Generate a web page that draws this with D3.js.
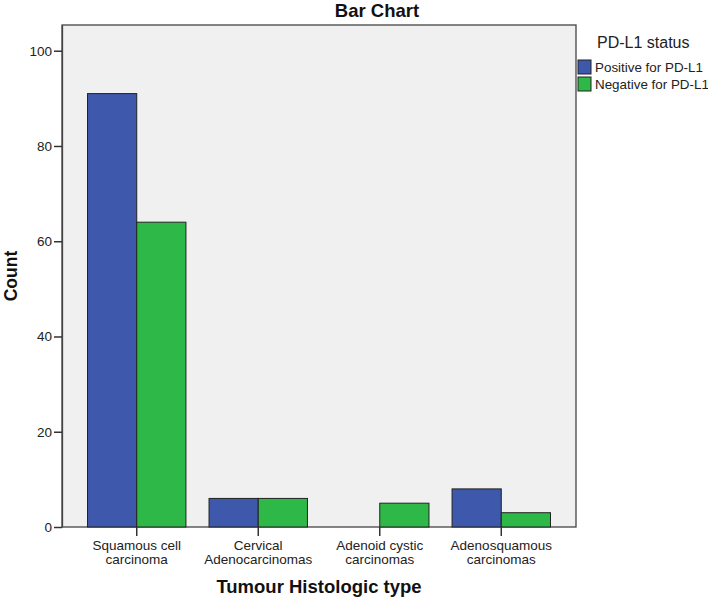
<!DOCTYPE html>
<html><head><meta charset="utf-8">
<script src="https://cdn.jsdelivr.net/npm/d3@7"></script>
<style>body{margin:0;background:#fff}svg{display:block;font-family:"Liberation Sans",Arial,sans-serif}</style>
</head><body><svg id="c" width="708" height="600"></svg>
<script>
const categories = [["Squamous cell","carcinoma"],["Cervical","Adenocarcinomas"],["Adenoid cystic","carcinomas"],["Adenosquamous","carcinomas"]];
const seriesNames = ["Positive for PD-L1","Negative for PD-L1"];
const positive = [91, 6, 0, 8];
const negative = [64, 6, 5, 3];
const yTicks = [0, 20, 40, 60, 80, 100];
const colors = ["#3E58AC", "#2EB848"];

const svg = d3.select("#c");
const L = 62, R = 576, T = 25, B = 527;
const cats = categories.map(c => c.join(" "));
const x0 = d3.scaleBand().domain(cats).range([L, R]).paddingInner(0.19).paddingOuter(0.21);
const x1 = d3.scaleBand().domain(seriesNames).range([0, x0.bandwidth()]);
const y = d3.scaleLinear().domain([0, 105.4]).range([B, T]);

svg.append("rect").attr("x", L).attr("y", T).attr("width", R - L).attr("height", B - T)
  .attr("fill", "#F0F0F0").attr("stroke", "#444").attr("stroke-width", 1.3);

const data = cats.map((c, i) => ({c, vals: [positive[i], negative[i]]}));
const g = svg.append("g");
data.forEach(d => {
  d.vals.forEach((v, j) => {
    if (v <= 0) return;
    g.append("rect").attr("x", x0(d.c) + x1(seriesNames[j])).attr("y", y(v))
      .attr("width", x1.bandwidth()).attr("height", y(0) - y(v))
      .attr("fill", colors[j]).attr("stroke", "#222").attr("stroke-width", 1);
  });
});

// y axis
const ya = svg.append("g").attr("transform", `translate(${L},0)`)
  .call(d3.axisLeft(y).tickValues(yTicks).tickSize(8).tickSizeOuter(0).tickFormat(d3.format("d")));
ya.select(".domain").attr("stroke", "#444").attr("stroke-width", 1.3);
ya.selectAll(".tick line").attr("stroke", "#333").attr("stroke-width", 1.5);
ya.selectAll(".tick text").attr("font-size", 13.5).attr("fill", "#222").attr("x", -10)
  .attr("font-family", '"Liberation Sans",Arial,sans-serif');

// x axis
const xa = svg.append("g").attr("transform", `translate(0,${B})`)
  .call(d3.axisBottom(x0).tickSize(9).tickSizeOuter(0).tickFormat(""));
xa.select(".domain").remove();
xa.selectAll(".tick line").attr("stroke", "#333").attr("stroke-width", 1.5);
categories.forEach((c, i) => {
  const cx = x0(cats[i]) + x0.bandwidth() / 2;
  c.forEach((line, k) => {
    svg.append("text").attr("x", cx).attr("y", B + 23 + k * 13.5).attr("text-anchor", "middle")
      .attr("font-size", 13.5).attr("fill", "#222").text(line);
  });
});

// titles
svg.append("text").attr("x", 377).attr("y", 17).attr("text-anchor", "middle")
  .attr("font-size", 18.5).attr("font-weight", "bold").attr("fill", "#111").text("Bar Chart");
svg.append("text").attr("x", (L + R) / 2).attr("y", 593).attr("text-anchor", "middle")
  .attr("font-size", 18.5).attr("font-weight", "bold").attr("fill", "#111").text("Tumour Histologic type");
svg.append("text").attr("transform", `translate(17,${(T + B) / 2}) rotate(-90)`).attr("text-anchor", "middle")
  .attr("font-size", 17.5).attr("font-weight", "bold").attr("fill", "#111").text("Count");

// legend
svg.append("text").attr("x", 597).attr("y", 48).attr("font-size", 16).attr("fill", "#222").text("PD-L1 status");
seriesNames.forEach((s, i) => {
  const yy = 60 + i * 17;
  svg.append("rect").attr("x", 578).attr("y", yy).attr("width", 13).attr("height", 14)
    .attr("fill", colors[i]).attr("stroke", "#222").attr("stroke-width", 1);
  svg.append("text").attr("x", 595).attr("y", yy + 12).attr("font-size", 13.4).attr("fill", "#222").text(s);
});
</script></body></html>
